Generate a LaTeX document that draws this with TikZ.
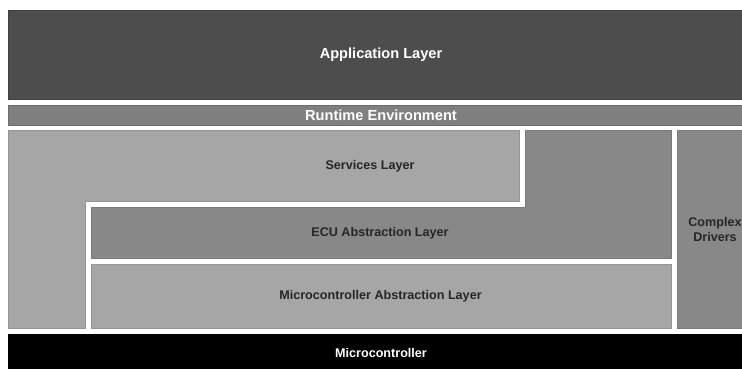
\documentclass[tikz,border=0pt]{standalone}
\usepackage{fontspec}
\setmainfont{Liberation Sans}
\definecolor{appgray}{HTML}{4D4D4D}
\definecolor{rtegray}{HTML}{7F7F7F}
\definecolor{lightgray}{HTML}{A6A6A6}
\definecolor{midgray}{HTML}{888888}
\begin{document}
\begin{tikzpicture}[x=1pt,y=-1pt,
  layer/.style={line width=0.7pt},
  lbl/.style={font=\bfseries\fontsize{12.6}{14}\selectfont, text=black!85, align=center},
  biglbl/.style={font=\bfseries\fontsize{14.6}{16}\selectfont, text=white},
  wlbl/.style={font=\bfseries\fontsize{12.6}{14}\selectfont, text=white}]
\useasboundingbox (0,0) rectangle (742,368);
\clip (0,0) rectangle (742,368);
\fill[white] (0,0) rectangle (742,368);
% Application layer
\filldraw[layer, fill=appgray, draw=appgray!85!black] (8,10) rectangle (756,99);
% Runtime Environment
\filldraw[layer, fill=rtegray, draw=rtegray!85!black] (8,105) rectangle (756,125);
% Services layer (L-shape)
\filldraw[layer, fill=lightgray, draw=lightgray!90!black] (8,130) -- (519,130) -- (519,201) -- (85,201) -- (85,328) -- (8,328) -- cycle;
% ECU abstraction layer (L-shape)
\filldraw[layer, fill=midgray, draw=midgray!90!black] (91,207) -- (525,207) -- (525,130) -- (671,130) -- (671,258) -- (91,258) -- cycle;
% Microcontroller abstraction layer
\filldraw[layer, fill=lightgray, draw=lightgray!90!black] (91,264) rectangle (671,328);
% Complex drivers
\filldraw[layer, fill=midgray, draw=midgray!90!black] (677,130) rectangle (756,328);
% Microcontroller
\filldraw[layer, fill=black, draw=black] (8,334) rectangle (756,372);
% Labels
\node[biglbl] (app) at (381,55) {Application Layer};
\node[biglbl] (rte) at (381,115) {Runtime Environment};
\node[lbl] (srv) at (370,166) {Services Layer};
\node[lbl] (ecu) at (380,233) {ECU Abstraction Layer};
\node[lbl] (mcal) at (380.5,296) {Microcontroller Abstraction Layer};
\node[lbl, font=\bfseries\fontsize{12.6}{15}\selectfont] (cdd) at (715,229.5) {Complex\\Drivers};
\node[wlbl] (mcu) at (381,353) {Microcontroller};
\end{tikzpicture}
\end{document}
